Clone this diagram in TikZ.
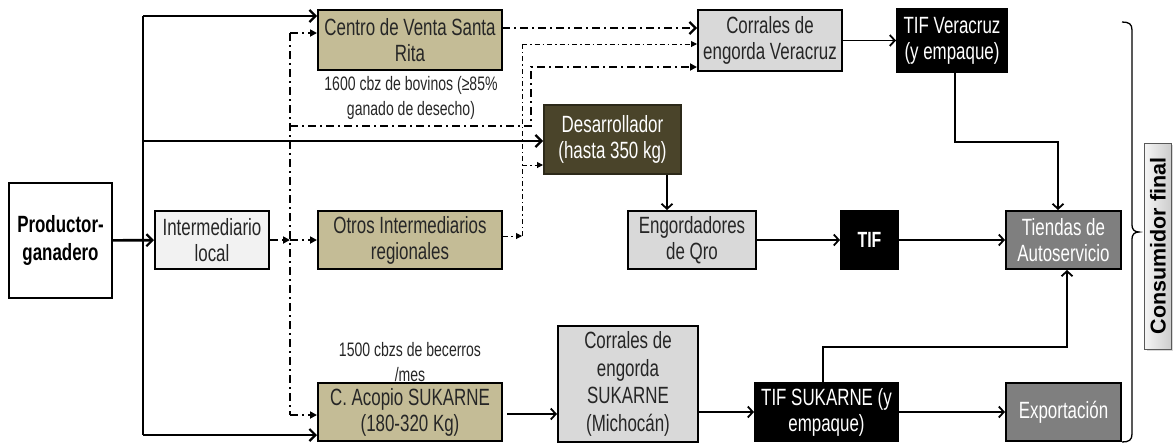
\documentclass[tikz,border=0pt]{standalone}
\usepackage{fontspec}
\setmainfont{Liberation Sans}[FakeStretch=0.72]
\newfontfamily\widefont{Liberation Sans}
\usetikzlibrary{arrows.meta,calc,shadows}
\definecolor{tan}{HTML}{C4BC96}
\definecolor{lgray}{HTML}{D9D9D9}
\definecolor{vlgray}{HTML}{F2F2F2}
\definecolor{olive}{HTML}{4A442A}
\definecolor{mgray}{HTML}{7F7F7F}
\definecolor{txt}{HTML}{262626}
\begin{document}
\begin{tikzpicture}[x=1pt,y=-1pt,
  box/.style={draw=black, line width=2pt, align=center, inner sep=0pt, text=txt,
    font=\fontsize{23.5}{26}\selectfont},
  dbox/.style={box, text=white},
  lbl/.style={align=center, inner sep=0pt, text=txt, font=\fontsize{19.5}{25}\selectfont},
  thk/.style={line width=2.6pt},
  thn/.style={line width=1.8pt},
  dd/.style={line width=2pt, dash pattern=on 8pt off 4pt on 2pt off 4pt},
  fdd/.style={line width=1pt, dash pattern=on 5pt off 3pt on 1.5pt off 3pt},
  barb/.style={-{Straight Barb[length=6pt,width=12pt,line width=2.2pt]}},
  sbarb/.style={-{Straight Barb[length=5pt,width=11pt,line width=1.8pt]}},
  tri/.style={-{Triangle[length=7pt,width=7pt]}},
  stri/.style={-{Triangle[length=6pt,width=6pt]}}
]
\useasboundingbox (0,0) rectangle (1173,445);

% nodes
\node[box, fill=white, minimum width=103pt, minimum height=115pt,
  font=\fontsize{23.5}{28}\selectfont\bfseries, text=black] (prod) at (60.5,240.5) {Productor-\\ganadero};
\node[box, fill=vlgray, minimum width=114pt, minimum height=58pt] (interm) at (212,240) {Intermediario\\local};
\node[box, fill=tan, minimum width=184pt, minimum height=60pt] (centro) at (410,40) {Centro de Venta Santa\\Rita};
\node[box, fill=tan, minimum width=184pt, minimum height=58pt] (otros) at (410,240) {Otros Intermediarios\\regionales};
\node[box, fill=tan, minimum width=184pt, minimum height=58pt] (acopio) at (410,412) {C. Acopio SUKARNE\\(180-320 Kg)};
\node[box, fill=lgray, minimum width=144pt, minimum height=61pt] (corrver) at (770,40.5) {Corrales de\\engorda Veracruz};
\node[dbox, fill=black, minimum width=110pt, minimum height=63pt] (tifver) at (952,40.5) {TIF Veracruz\\(y empaque)};
\node[dbox, fill=olive, draw=olive!60!black, minimum width=137pt, minimum height=69pt] (desarr) at (612.5,139.5) {Desarrollador\\(hasta 350 kg)};
\node[box, fill=lgray, minimum width=128pt, minimum height=58pt] (engqro) at (692,240) {Engordadores\\de Qro};
\node[dbox, fill=black, minimum width=57pt, minimum height=58pt, font=\fontsize{22}{24}\selectfont\bfseries] (tif) at (869.5,240) {TIF};
\node[dbox, fill=mgray, minimum width=115pt, minimum height=58pt] (tiendas) at (1063.5,240) {Tiendas de\\Autoservicio};
\node[box, fill=lgray, minimum width=140pt, minimum height=116pt, font=\fontsize{23.5}{27.5}\selectfont] (corrsuk) at (628,384) {Corrales de\\engorda\\SUKARNE\\(Michocán)};
\node[dbox, fill=black, minimum width=143pt, minimum height=58pt] (tifsuk) at (826.5,412) {TIF SUKARNE (y\\empaque)};
\node[dbox, fill=mgray, minimum width=115pt, minimum height=58pt] (export) at (1063.5,412) {Exportación};

\node[lbl] (l1) at (411,97.5) {1600 cbz de bovinos (≥85\%\\ganado de desecho)};
\node[lbl] (l2) at (410,362) {1500 cbzs de becerros\\/mes};

\node[draw=gray!70!black, line width=1pt, left color=gray!8, right color=gray!40,
  drop shadow={shadow xshift=2pt, shadow yshift=-2pt, fill=gray!60},
  minimum width=206pt, minimum height=27pt, inner sep=0pt, rotate=90,
  font=\widefont\fontsize{21.5}{22}\selectfont\bfseries] (cons) at (1158,246) {Consumidor final};

% solid thick from producer
\coordinate (tT) at (143,16);
\coordinate (tM) at (143,141);
\coordinate (tB) at (143,435);
\draw[thk] (tT) -- (tB);
\draw[thk,barb] (tT) -- (tT -| centro.west);
\draw[thk,barb] (tM) -- (tM -| desarr.west);
\draw[thk,barb] (tB) -- (tB -| acopio.west);
\draw[thk,barb] (prod) -- (interm);

% dash-dot network
\coordinate (dA) at (290,33);
\coordinate (dB) at (290,415);
\coordinate (dJ) at (290,240);
\coordinate (dC) at (290,126);
\coordinate (dD) at (531,126);
\coordinate (dE) at (531,67);
\draw[dd] (dA) -- (dB);
\draw[dd,tri] (dA) -- (dA -| centro.west);
\draw[dd,tri] (dB) -- (dB -| acopio.west);
\draw[dd,tri] (interm) -- (dJ);
\draw[dd,tri] (dJ) -- (otros);
\draw[dd,tri] (dC) -- (dD) -- (dE) -- (dE -| corrver.west);
\coordinate (cR) at (502,28);
\draw[dd,barb] (cR) -- (cR -| corrver.west);

% fine dash-dot network
\coordinate (fA) at (522,44);
\coordinate (fB) at (522,236);
\coordinate (fC) at (522,165);
\draw[fdd] (fB) -- (fA);
\draw[fdd,stri] (otros.east |- fB) -- (fB);
\draw[fdd,stri] (fA) -- (fA -| corrver.west);
\draw[fdd,stri] (fC) -- (fC -| desarr.west);

% solid thin connectors
\draw[thn,sbarb] (corrver) -- (tifver);
\coordinate (v1) at (955,142);
\coordinate (v2) at (1058,142);
\draw[thn,sbarb] (tifver.south -| v1) -- (v1) -- (v2) -- (v2 |- tiendas.north);
\coordinate (dq) at (667,174);
\draw[thn,sbarb] (desarr.south -| dq) -- (engqro.north -| dq);
\draw[thn,sbarb] (engqro) -- (tif);
\draw[thn,sbarb] (tif) -- (tiendas);
\coordinate (aq) at (507,414);
\draw[thn,sbarb] (aq) -- (aq -| corrsuk.west);
\draw[thn,sbarb] (tifsuk.west -| corrsuk.east) -- (tifsuk.west);
\draw[thn,sbarb] (tifsuk) -- (export);
\coordinate (s1) at (823,347);
\coordinate (s2) at (1067,347);
\draw[thn,sbarb] (tifsuk.north -| s1) -- (s1) -- (s2) -- (s2 |- tiendas.south);

% bracket
\draw[line width=1.3pt] (1122,22) .. controls (1129,22) and (1132,24) .. (1132,30)
  -- (1132,225) .. controls (1132,229) and (1134,232) .. (1139,232)
  .. controls (1134,232) and (1132,235) .. (1132,239)
  -- (1132,434) .. controls (1132,440) and (1129,442) .. (1122,442);
\end{tikzpicture}
\end{document}
